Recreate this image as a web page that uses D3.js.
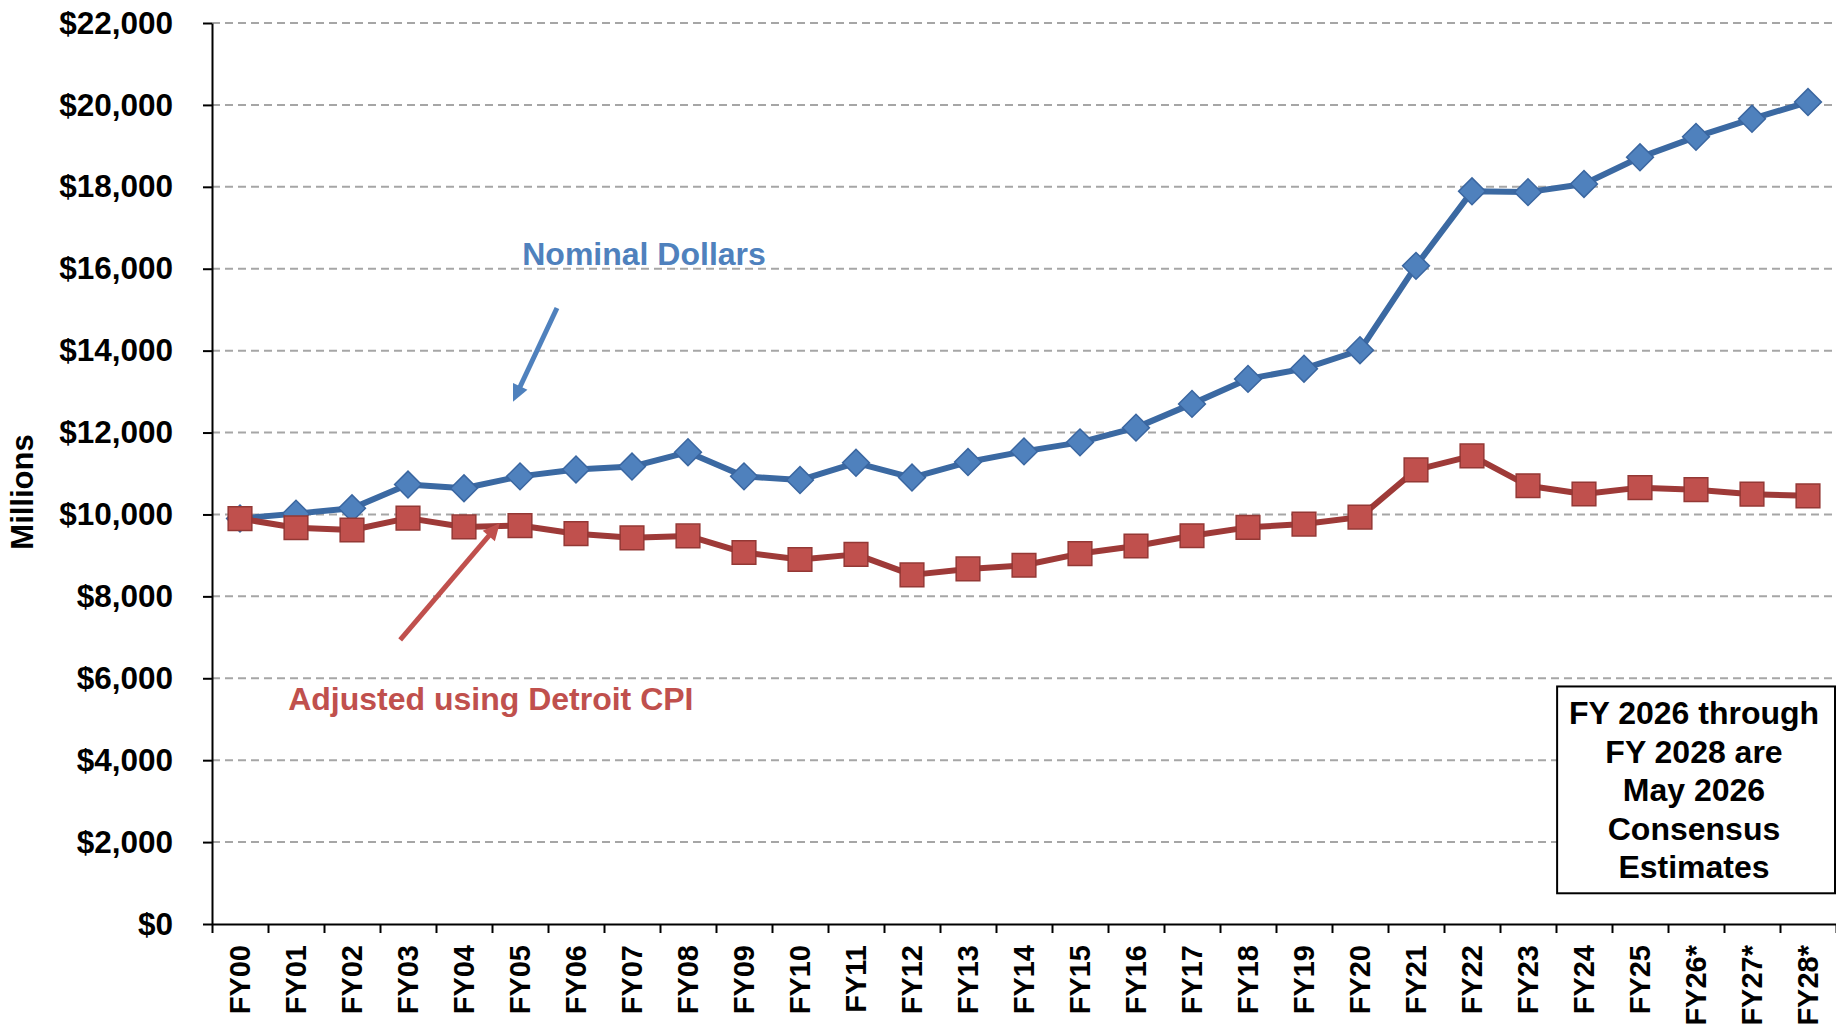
<!DOCTYPE html>
<html>
<head>
<meta charset="utf-8">
<script src="https://cdn.jsdelivr.net/npm/d3@7"></script>
<style>
  body { margin: 0; background: #fff; }
  svg { display: block; font-family: "Liberation Sans", Arial, sans-serif; font-weight: bold; }
</style>
</head>
<body>
<svg id="chart"></svg>
<script>
// fiscal years, the starred ones are estimates
const years = ["FY00", "FY01", "FY02", "FY03", "FY04", "FY05", "FY06", "FY07", "FY08", "FY09",
  "FY10", "FY11", "FY12", "FY13", "FY14", "FY15", "FY16", "FY17", "FY18", "FY19",
  "FY20", "FY21", "FY22", "FY23", "FY24", "FY25", "FY26*", "FY27*", "FY28*"];

// $ millions
const nominal = [9900, 10020, 10150, 10730, 10640, 10930, 11100, 11170, 11520, 10930,
  10840, 11260, 10900, 11280, 11540, 11760, 12120, 12700, 13310, 13560,
  14010, 16070, 17890, 17870, 18070, 18720, 19220, 19660, 20070];
const adjusted = [9900, 9675, 9620, 9910, 9695, 9728, 9530, 9430, 9475, 9070,
  8900, 9025, 8525, 8670, 8760, 9045, 9230, 9480, 9685, 9765,
  9935, 11090, 11430, 10700, 10500, 10655, 10605, 10495, 10455];

const yTicks = d3.range(0, 22001, 2000);
const noteLines = ["FY 2026 through", "FY 2028 are", "May 2026", "Consensus", "Estimates"];

const width = 1836, height = 1024;
const svg = d3.select("#chart").attr("width", width).attr("height", height);

// scales
const xBand = d3.scaleBand().domain(years).range([212, 1836]);
const xIdx = d3.scaleLinear().domain([0, years.length]).range([212, 1836]);
const y = d3.scaleLinear().domain([0, 22000]).range([924, 23]);
const cx = (i) => xBand(years[i]) + xBand.bandwidth() / 2;

// dashed gridlines
svg.append("g")
  .selectAll("line")
  .data(yTicks.filter((v) => v > 0))
  .join("line")
  .attr("x1", 212)
  .attr("x2", 1836)
  .attr("y1", (d) => y(d))
  .attr("y2", (d) => y(d))
  .attr("stroke", "#a6a6a6")
  .attr("stroke-width", 2)
  .attr("stroke-dasharray", "8,5");

// y axis
const yAxis = d3.axisLeft(y)
  .tickValues(yTicks)
  .tickSize(9)
  .tickSizeOuter(0)
  .tickPadding(30)
  .tickFormat((d) => "$" + d3.format(",")(d));

const gy = svg.append("g")
  .attr("transform", `translate(212,0)`)
  .call(yAxis);
gy.selectAll("path, line").attr("stroke", "#000").attr("stroke-width", 2);
gy.selectAll("text")
  .attr("font-size", 31.5)
  .attr("font-family", "'Liberation Sans', Arial, sans-serif")
  .attr("font-weight", "bold")
  .attr("fill", "#000");

// x axis: tick marks on the category boundaries
const xTicks = d3.axisBottom(xIdx)
  .tickValues(d3.range(0, years.length + 1))
  .tickSize(9)
  .tickSizeOuter(0)
  .tickFormat("");
const gx = svg.append("g")
  .attr("transform", `translate(0,${y(0)})`)
  .call(xTicks);
gx.selectAll("path, line").attr("stroke", "#000").attr("stroke-width", 2);

// x labels, rotated, centred in each category
const gxl = svg.append("g")
  .attr("transform", `translate(0,${y(0)})`)
  .call(d3.axisBottom(xBand).tickSize(0));
gxl.select(".domain").remove();
gxl.selectAll("text")
  .attr("transform", "rotate(-90)")
  .attr("x", -21)
  .attr("y", 0)
  .attr("dy", "0.36em")
  .attr("text-anchor", "end")
  .attr("font-size", 29)
  .attr("font-family", "'Liberation Sans', Arial, sans-serif")
  .attr("font-weight", "bold")
  .attr("fill", "#000");

// y title
svg.append("text")
  .attr("transform", "translate(33,492) rotate(-90)")
  .attr("text-anchor", "middle")
  .attr("font-size", 31)
  .text("Millions");

const line = d3.line()
  .x((d, i) => cx(i))
  .y((d) => y(d));

// nominal series
svg.append("path")
  .attr("d", line(nominal))
  .attr("fill", "none")
  .attr("stroke", "#3b69a2")
  .attr("stroke-width", 6)
  .attr("stroke-linejoin", "round");

svg.append("g")
  .selectAll("path")
  .data(nominal)
  .join("path")
  .attr("d", d3.symbol(d3.symbolSquare, 360))
  .attr("transform", (d, i) => `translate(${cx(i)},${y(d)}) rotate(45)`)
  .attr("fill", "#4f81bd")
  .attr("stroke", "#3a66a0")
  .attr("stroke-width", 1.5);

// adjusted series
svg.append("path")
  .attr("d", line(adjusted))
  .attr("fill", "none")
  .attr("stroke", "#9e3a38")
  .attr("stroke-width", 6)
  .attr("stroke-linejoin", "round");

svg.append("g")
  .selectAll("path")
  .data(adjusted)
  .join("path")
  .attr("d", d3.symbol(d3.symbolSquare, 560))
  .attr("transform", (d, i) => `translate(${cx(i)},${y(d)})`)
  .attr("fill", "#c0504d")
  .attr("stroke", "#943835")
  .attr("stroke-width", 1.5);

// annotation arrows, placed in (category index, value) space
function arrow(i1, v1, i2, v2, color) {
  const x1 = xIdx(i1), y1 = y(v1), x2 = xIdx(i2), y2 = y(v2);
  const a = Math.atan2(y2 - y1, x2 - x1);
  const len = 17, half = 8;
  const bx = x2 - len * Math.cos(a), by = y2 - len * Math.sin(a);
  svg.append("line")
    .attr("x1", x1).attr("y1", y1)
    .attr("x2", bx + 2 * Math.cos(a)).attr("y2", by + 2 * Math.sin(a))
    .attr("stroke", color)
    .attr("stroke-width", 5);
  const pts = [
    [x2, y2],
    [bx + half * Math.sin(a), by - half * Math.cos(a)],
    [bx - half * Math.sin(a), by + half * Math.cos(a)]
  ];
  svg.append("polygon")
    .attr("points", pts.map((p) => p.join(",")).join(" "))
    .attr("fill", color);
}

arrow(6.16, 15040, 5.375, 12750, "#4f81bd");
arrow(3.36, 6940, 5.14, 9790, "#c0504d");

svg.append("text")
  .attr("x", xIdx(5.54))
  .attr("y", y(16090))
  .attr("font-size", 32)
  .attr("fill", "#4f81bd")
  .text("Nominal Dollars");

svg.append("text")
  .attr("x", xIdx(1.36))
  .attr("y", y(5230))
  .attr("font-size", 32)
  .attr("fill", "#c0504d")
  .text("Adjusted using Detroit CPI");

// estimate note box
const boxX = xIdx(24.02), boxTop = y(5800), boxBottom = y(750);
svg.append("rect")
  .attr("x", boxX)
  .attr("y", boxTop)
  .attr("width", 1835 - boxX)
  .attr("height", boxBottom - boxTop)
  .attr("fill", "#fff")
  .attr("stroke", "#000")
  .attr("stroke-width", 2);

svg.append("g")
  .selectAll("text")
  .data(noteLines)
  .join("text")
  .attr("x", 1694)
  .attr("y", (d, i) => boxTop + 38 + i * 38.5)
  .attr("text-anchor", "middle")
  .attr("font-size", 32)
  .attr("fill", "#000")
  .text((d) => d);
</script>
</body>
</html>
